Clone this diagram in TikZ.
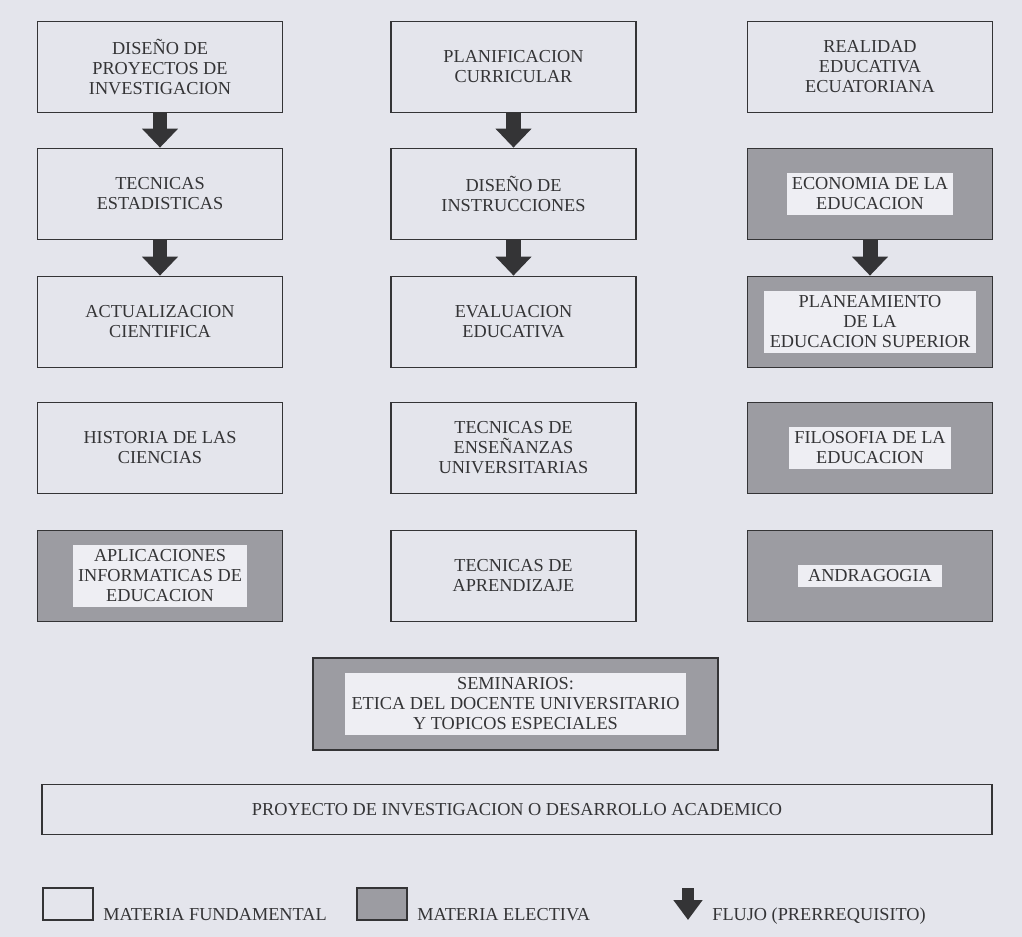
\documentclass[tikz,border=0pt]{standalone}
\usepackage{fontspec}
\setmainfont{Liberation Serif}
\usepackage{tikz}
\usetikzlibrary{arrows.meta, positioning}

\definecolor{papel}{RGB}{228,229,236}
\definecolor{claro}{RGB}{238,238,243}
\definecolor{trama}{RGB}{156,156,162}
\definecolor{tinta}{RGB}{52,52,54}

\tikzset{
	materia/.style = {draw = tinta, line width = 1pt, fill = papel, minimum width = 4.9cm, minimum height = 1.82cm, align = center, text = tinta, inner sep = 0pt, font = \fontsize{10.4}{11.4}\selectfont},
	electiva/.style = {materia, fill = trama},
	rotulo/.style = {fill = claro, align = center, text = tinta, inner sep = 3pt, font = \fontsize{10.4}{11.4}\selectfont},
	flujo/.style = {draw = tinta, line width = 0.3cm, -{Triangle[length = 0.38cm, width = 0.7cm]}},
	leyenda/.style = {anchor = base west, text = tinta, inner sep = 0pt, font = \fontsize{10.4}{11.4}\selectfont}
}

\begin{document}
\begin{tikzpicture}[x = 0.02cm, y = -0.02cm]
		\def\ca{160};
		\def\cb{513.5};
		\def\cc{870};
		
		\fill [papel] (0,0) rectangle (1022,937);
		\useasboundingbox (0,0) rectangle (1022,937);
		
		% primera columna
		\node [materia] (diseno) at (\ca,67) {DISEÑO DE\\PROYECTOS DE\\INVESTIGACION};
		\node [materia] (tecnicas) at (\ca,194) {TECNICAS\\ESTADISTICAS};
		\node [materia] (actual) at (\ca,322) {ACTUALIZACION\\CIENTIFICA};
		\node [materia] (historia) at (\ca,448) {HISTORIA DE LAS\\CIENCIAS};
		\node [electiva] (aplic) at (\ca,576) {};
		\node [rotulo] (aplic-t) at (aplic) {APLICACIONES\\INFORMATICAS DE\\EDUCACION};
		
		% segunda columna
		\node [materia] (planif) at (\cb,67) {PLANIFICACION\\CURRICULAR};
		\node [materia] (instr) at (\cb,194) {DISEÑO DE\\INSTRUCCIONES};
		\node [materia] (evalua) at (\cb,322) {EVALUACION\\EDUCATIVA};
		\node [materia] (ensena) at (\cb,448) {TECNICAS DE\\ENSEÑANZAS\\UNIVERSITARIAS};
		\node [materia] (aprend) at (\cb,576) {TECNICAS DE\\APRENDIZAJE};
		
		% tercera columna
		\node [materia] (realidad) at (\cc,67) {REALIDAD\\EDUCATIVA\\ECUATORIANA};
		\node [electiva] (econ) at (\cc,194) {};
		\node [rotulo] (econ-t) at (econ) {ECONOMIA DE LA\\EDUCACION};
		\node [electiva] (planea) at (\cc,322) {};
		\node [rotulo] (planea-t) at (planea) {PLANEAMIENTO\\DE LA\\EDUCACION SUPERIOR};
		\node [electiva] (filo) at (\cc,448) {};
		\node [rotulo] (filo-t) at (filo) {FILOSOFIA DE LA\\EDUCACION};
		\node [electiva] (andra) at (\cc,576) {};
		\node [rotulo, inner xsep = 6pt] (andra-t) at (andra) {ANDRAGOGIA};
		
		\node [electiva, minimum width = 8.1cm, minimum height = 1.84cm] (semin) at (515.5,704) {};
		\node [rotulo, inner xsep = 4pt] (semin-t) at (semin) {SEMINARIOS:\\ETICA DEL DOCENTE UNIVERSITARIO\\Y TOPICOS ESPECIALES};
		
		\node [materia, minimum width = 19cm, minimum height = 1cm] (proyecto) at (517,809.5) {PROYECTO DE INVESTIGACION O DESARROLLO ACADEMICO};
		
		\draw [flujo] (diseno) -- (tecnicas);
		\draw [flujo] (tecnicas) -- (actual);
		\draw [flujo] (planif) -- (instr);
		\draw [flujo] (instr) -- (evalua);
		\draw [flujo] (econ) -- (planea);
		
		% leyenda
		\node [materia, minimum width = 1cm, minimum height = 0.64cm] (leyfund) at (68,904) {};
		\node [leyenda] (leyfund-t) at (103,920) {MATERIA FUNDAMENTAL};
		\node [electiva, minimum width = 1cm, minimum height = 0.64cm] (leyelec) at (382,904) {};
		\node [leyenda] (leyelec-t) at (417,920) {MATERIA ELECTIVA};
		\coordinate (leyflujo-a) at (688,888);
		\coordinate (leyflujo-b) at (688,920);
		\draw [flujo, line width = 0.24cm, -{Triangle[length = 0.4cm, width = 0.56cm]}] (leyflujo-a) -- (leyflujo-b);
		\node [leyenda] (leyflujo-t) at (712,920) {FLUJO (PRERREQUISITO)};
	\end{tikzpicture}
\end{document}
